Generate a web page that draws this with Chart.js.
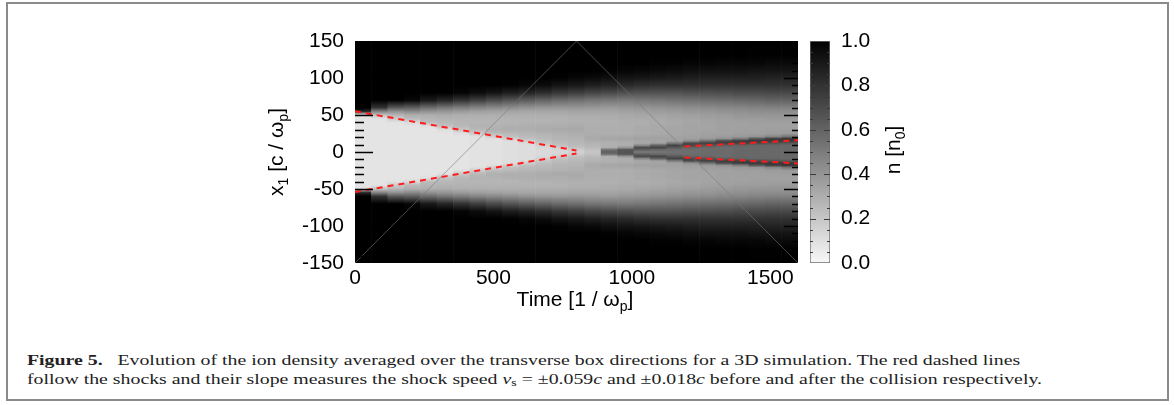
<!DOCTYPE html>
<html>
<head>
<meta charset="utf-8">
<script src="https://cdn.jsdelivr.net/npm/chart.js@4.4.1/dist/chart.umd.min.js"></script>
<style>
html,body{margin:0;padding:0;background:#fff;}
body{width:1174px;height:405px;position:relative;overflow:hidden;}
#frame{position:absolute;left:6px;top:2px;width:1159px;height:395px;border:2px solid #8a8a8a;}
#main{position:absolute;left:0;top:0;}
#cbar{position:absolute;left:800px;top:0;}
.cap{position:absolute;left:27px;font-family:'Liberation Serif','DejaVu Serif',serif;font-size:15.5px;line-height:18px;color:#222;white-space:nowrap;transform-origin:0 0;}
.cap sub{font-size:0.7em;vertical-align:-0.2em;line-height:0;}
</style>
</head>
<body>
<div id="frame"></div>
<canvas id="main" width="1174" height="320"></canvas>
<canvas id="cbar" width="140" height="320"></canvas>
<div class="cap" id="cap1" style="top:351px"><b>Figure 5.</b>&nbsp;&nbsp; Evolution of the ion density averaged over the transverse box directions for a 3D simulation. The red dashed lines</div>
<div class="cap" id="cap2" style="top:370px">follow the shocks and their slope measures the shock speed <i>v</i><sub>s</sub> = ±0.059<i>c</i> and ±0.018<i>c</i> before and after the collision respectively.</div>
<script>
// ---------------- data ----------------
// centres of the time bins (1/ωp)
const timeBins = [29.6, 88.9, 148.1, 207.4, 266.7, 325.9, 385.2, 444.4, 503.7, 563.0, 622.2, 681.5, 740.7, 800.0,
  859.3, 918.5, 977.8, 1037.0, 1096.3, 1155.6, 1214.8, 1274.1, 1333.3, 1392.6, 1451.9, 1511.1, 1570.4];
// distance |x1| from the centre (c/ωp) at which the density profile is sampled
const distanceKnots = [0, 3, 6, 9, 12, 15, 18, 21, 25, 30, 35, 40, 45, 50, 55, 60, 70, 80, 90, 100, 110, 120, 130, 150];
// density n/n0, one profile per time bin, sampled at distanceKnots
const density = [
  [.08,.08,.08,.08,.08,.08,.08,.08,.08,.08,.08,.08,.08,.09,.85,1,1,1,1,1,1,1,1,1],
  [.08,.08,.08,.08,.08,.08,.08,.08,.08,.08,.08,.08,.09,.22,.48,.8,1,1,1,1,1,1,1,1],
  [.08,.08,.08,.08,.08,.08,.08,.08,.08,.08,.08,.09,.18,.27,.42,.65,1,1,1,1,1,1,1,1],
  [.08,.08,.08,.08,.08,.08,.08,.08,.08,.08,.08,.12,.25,.3,.45,.62,.97,1,1,1,1,1,1,1],
  [.08,.08,.08,.08,.08,.08,.08,.08,.08,.08,.1,.24,.27,.3,.42,.57,.9,1,1,1,1,1,1,1],
  [.08,.08,.08,.08,.08,.08,.08,.08,.08,.1,.22,.26,.28,.31,.4,.53,.85,1,1,1,1,1,1,1],
  [.08,.08,.08,.08,.08,.08,.08,.08,.1,.2,.26,.27,.28,.3,.38,.5,.8,.98,1,1,1,1,1,1],
  [.09,.09,.09,.09,.09,.09,.09,.1,.18,.26,.28,.27,.28,.3,.36,.47,.75,.95,1,1,1,1,1,1],
  [.09,.09,.09,.09,.09,.09,.1,.17,.24,.29,.28,.27,.28,.3,.35,.45,.7,.92,1,1,1,1,1,1],
  [.1,.1,.1,.1,.1,.11,.17,.22,.26,.3,.29,.27,.28,.3,.34,.43,.66,.88,.99,1,1,1,1,1],
  [.11,.11,.11,.11,.12,.17,.22,.25,.27,.3,.3,.28,.28,.3,.33,.41,.63,.85,.97,1,1,1,1,1],
  [.12,.12,.13,.16,.2,.23,.25,.26,.28,.31,.3,.28,.28,.3,.33,.4,.6,.82,.95,1,1,1,1,1],
  [.13,.14,.18,.22,.24,.26,.27,.28,.29,.32,.3,.29,.28,.3,.33,.39,.57,.78,.92,.99,1,1,1,1],
  [.15,.18,.22,.25,.26,.27,.28,.29,.3,.32,.31,.29,.29,.31,.34,.4,.55,.75,.9,.97,1,1,1,1],
  [.2,.22,.25,.27,.28,.3,.32,.31,.3,.3,.3,.29,.29,.31,.34,.39,.53,.72,.87,.96,1,1,1,1],
  [.62,.55,.3,.29,.29,.31,.33,.32,.3,.3,.3,.29,.3,.31,.34,.38,.52,.7,.85,.94,.99,1,1,1],
  [.66,.66,.4,.3,.3,.32,.34,.32,.3,.3,.3,.3,.31,.32,.35,.39,.51,.68,.83,.92,.98,1,1,1],
  [.5,.62,.7,.45,.32,.33,.35,.33,.31,.31,.31,.3,.31,.33,.36,.4,.52,.67,.81,.91,.97,1,1,1],
  [.52,.58,.72,.6,.35,.33,.35,.34,.32,.32,.32,.31,.32,.34,.37,.41,.53,.67,.8,.9,.96,.99,1,1],
  [.55,.56,.65,.73,.5,.35,.35,.34,.33,.33,.33,.32,.33,.35,.38,.42,.54,.67,.8,.89,.95,.99,1,1],
  [.56,.56,.6,.72,.7,.42,.36,.35,.34,.34,.34,.33,.34,.36,.39,.43,.55,.68,.8,.88,.94,.98,1,1],
  [.57,.57,.58,.66,.74,.55,.38,.36,.35,.34,.34,.34,.35,.37,.4,.44,.56,.68,.8,.87,.93,.98,1,1],
  [.57,.57,.57,.62,.75,.7,.42,.37,.35,.35,.35,.35,.36,.38,.41,.45,.57,.69,.8,.87,.93,.97,1,1],
  [.58,.58,.58,.6,.74,.76,.5,.38,.36,.35,.35,.35,.37,.39,.42,.46,.58,.7,.8,.87,.93,.97,1,1],
  [.58,.58,.58,.59,.7,.78,.65,.4,.36,.35,.35,.36,.37,.4,.43,.47,.59,.7,.8,.87,.92,.97,.99,1],
  [.58,.58,.58,.59,.66,.78,.74,.45,.37,.36,.35,.36,.38,.4,.43,.48,.6,.71,.8,.86,.92,.96,.99,1],
  [.58,.58,.58,.58,.64,.78,.78,.52,.38,.36,.35,.36,.38,.4,.43,.48,.6,.71,.8,.86,.92,.96,.99,1]
];
// thin grey light-cone lines [t, x1]
const lightCone = [[0, -150], [800, 150], [1600, -150]];
// red dashed shock fits [t, x1]
const shockBeforeUpper = [[0, 55], [800, 2]];
const shockBeforeLower = [[0, -54], [800, -2]];
const shockAfterUpper = [[1190, 7.5], [1600, 15.8]];
const shockAfterLower = [[1190, -7.3], [1600, -15.4]];
// axes
const xRange = [0, 1600], xTicks = [0, 500, 1000, 1500];
const yRange = [-150, 150], yStep = 50, yMinorStep = 10;
const cbRange = [0, 1], cbStep = 0.2, cbMinorStep = 0.05;

// ---------------- helpers ----------------
Chart.defaults.font.family = '"Liberation Sans", Arial, sans-serif';
const FONT = 21;
function grey(v) { const g = Math.round(248 * (1 - Math.max(0, Math.min(1, v)))); return `rgb(${g},${g},${g})`; }
function pts(a) { return a.map(([x, y]) => ({x, y})); }

function drawRich(ctx, parts, x, y, size, rot) {
  ctx.save();
  ctx.translate(x, y); ctx.rotate(rot || 0);
  const mainF = size + 'px "Liberation Sans", Arial, sans-serif';
  const subF = Math.round(size * 0.66) + 'px "Liberation Sans", Arial, sans-serif';
  let w = 0;
  parts.forEach(([t, s]) => { ctx.font = s ? subF : mainF; w += ctx.measureText(t).width; });
  let cx = -w / 2;
  ctx.textBaseline = 'alphabetic'; ctx.textAlign = 'left'; ctx.fillStyle = '#000';
  parts.forEach(([t, s]) => { ctx.font = s ? subF : mainF; ctx.fillText(t, cx, s ? size * 0.22 : 0); cx += ctx.measureText(t).width; });
  ctx.restore();
}

function columnGradient(context) {
  const chart = context.chart;
  const {ctx, chartArea, scales} = chart;
  if (!chartArea || context.type !== 'data') return '#000';
  const prof = density[context.dataIndex];
  const y = scales.y;
  const top = y.getPixelForValue(yRange[1]), bot = y.getPixelForValue(yRange[0]);
  const g = ctx.createLinearGradient(0, top, 0, bot);
  const stops = [];
  distanceKnots.forEach((d, k) => {
    stops.push([d, prof[k]]);
    if (d > 0) stops.push([-d, prof[k]]);
  });
  stops.sort((a, b) => b[0] - a[0]);
  stops.forEach(([x1, v]) => {
    const off = (y.getPixelForValue(x1) - top) / (bot - top);
    g.addColorStop(Math.min(1, Math.max(0, off)), grey(v));
  });
  return g;
}

const mainDecor = {
  id: 'mainDecor',
  afterDatasetsDraw(chart) {
    const {ctx, chartArea: a, scales: {y}} = chart;
    ctx.save();
    ctx.strokeStyle = '#000'; ctx.lineWidth = 1.3;
    for (let v = yRange[0] + yMinorStep; v < yRange[1]; v += yMinorStep) {
      const p = Math.round(y.getPixelForValue(v)) + 0.5;
      const major = v % yStep === 0;
      ctx.beginPath();
      ctx.moveTo(a.left, p); ctx.lineTo(a.left + (major ? 18 : 9), p);
      ctx.moveTo(a.right, p); ctx.lineTo(a.right - (major ? 14 : 6), p);
      ctx.stroke();
    }
    ctx.restore();
  },
  afterDraw(chart) {
    const ctx = chart.ctx;
    drawRich(ctx, [['x', 0], ['1', 1], [' [c / \u03C9', 0], ['p', 1], [']', 0]], 283, 152, FONT, -Math.PI / 2);
    drawRich(ctx, [['Time [1 / \u03C9', 0], ['p', 1], [']', 0]], 575, 306, FONT, 0);
  }
};

new Chart(document.getElementById('main'), {
  type: 'bar',
  data: {
    datasets: [
      {type: 'bar', data: timeBins.map(t => ({x: t, y: [yRange[0], yRange[1]]})), backgroundColor: columnGradient,
        borderWidth: 0, barPercentage: 1, categoryPercentage: 1, grouped: false, order: 3},
      {type: 'line', data: pts(lightCone), borderColor: 'rgba(120,120,120,0.85)', borderWidth: 0.7, pointRadius: 0, order: 2},
      {type: 'line', data: pts(shockBeforeUpper), borderColor: '#ff1c1c', borderWidth: 2, borderDash: [6, 5], pointRadius: 0, order: 1},
      {type: 'line', data: pts(shockBeforeLower), borderColor: '#ff1c1c', borderWidth: 2, borderDash: [6, 5], pointRadius: 0, order: 1},
      {type: 'line', data: pts(shockAfterUpper), borderColor: '#ff1c1c', borderWidth: 2, borderDash: [6, 5], pointRadius: 0, order: 1},
      {type: 'line', data: pts(shockAfterLower), borderColor: '#ff1c1c', borderWidth: 2, borderDash: [6, 5], pointRadius: 0, order: 1}
    ]
  },
  options: {
    responsive: false, animation: false,
    layout: {padding: {left: 253, top: 41, right: 376, bottom: 7}},
    plugins: {legend: {display: false}, tooltip: {enabled: false}},
    scales: {
      x: {type: 'linear', min: xRange[0], max: xRange[1], offset: false,
        grid: {display: false, drawTicks: false}, border: {display: false},
        afterBuildTicks: s => { s.ticks = xTicks.map(v => ({value: v})); },
        ticks: {padding: 3, maxRotation: 0, autoSkip: false,
          font: {size: FONT}, color: '#000', callback: v => String(v)},
        afterFit: s => { s.height = 50; }},
      y: {type: 'linear', min: yRange[0], max: yRange[1],
        grid: {display: false, drawTicks: false}, border: {display: false},
        ticks: {stepSize: yStep, padding: 11, font: {size: FONT}, color: '#000', callback: v => String(v)},
        afterFit: s => { s.width = 102; }}
    }
  },
  plugins: [mainDecor]
});

// ---------------- colour bar ----------------
function cbGradient(context) {
  const {ctx, chartArea, scales} = context.chart;
  if (!chartArea) return '#888';
  const y = scales.y;
  const top = y.getPixelForValue(cbRange[1]), bot = y.getPixelForValue(cbRange[0]);
  const g = ctx.createLinearGradient(0, bot, 0, top);
  g.addColorStop(0, grey(cbRange[0]));
  g.addColorStop(1, grey(cbRange[1]));
  return g;
}
const cbDecor = {
  id: 'cbDecor',
  afterDatasetsDraw(chart) {
    const {ctx, chartArea: a, scales: {y}} = chart;
    ctx.save();
    ctx.strokeStyle = '#3a3a3a'; ctx.lineWidth = 1;
    const n = Math.round((cbRange[1] - cbRange[0]) / cbMinorStep);
    for (let i = 1; i < n; i++) {
      const v = cbRange[0] + i * cbMinorStep;
      const p = Math.round(y.getPixelForValue(v)) + 0.5;
      const major = i % Math.round(cbStep / cbMinorStep) === 0;
      const len = major ? 6 : 3;
      ctx.beginPath();
      ctx.moveTo(a.left, p); ctx.lineTo(a.left + len, p);
      ctx.moveTo(a.right, p); ctx.lineTo(a.right - len, p);
      ctx.stroke();
    }
    ctx.restore();
  },
  afterDraw(chart) {
    drawRich(chart.ctx, [['n [n', 0], ['0', 1], [']', 0]], 100, 150, FONT, -Math.PI / 2);
  }
};
new Chart(document.getElementById('cbar'), {
  type: 'bar',
  data: {labels: ['n'], datasets: [{data: [[cbRange[0], cbRange[1]]], backgroundColor: cbGradient,
    borderColor: '#6e6e6e', borderWidth: 1, borderSkipped: false, barPercentage: 1, categoryPercentage: 1}]},
  options: {
    responsive: false, animation: false,
    layout: {padding: {left: 10, top: 41, right: 50, bottom: 57}},
    plugins: {legend: {display: false}, tooltip: {enabled: false}},
    scales: {
      x: {display: false},
      y: {position: 'right', min: cbRange[0], max: cbRange[1],
        grid: {display: false, drawTicks: false}, border: {display: false},
        ticks: {stepSize: cbStep, padding: 11, font: {size: FONT}, color: '#000', callback: v => Number(v).toFixed(1)},
        afterFit: s => { s.width = 60; }}
    }
  },
  plugins: [cbDecor]
});

// ---------------- caption fit (same horizontal scale for both lines) ----------------
function fitCaption() {
  const c1 = document.getElementById('cap1'), c2 = document.getElementById('cap2');
  c1.style.transform = 'none'; c2.style.transform = 'none';
  const k = 1015 / c2.getBoundingClientRect().width;
  c1.style.transform = `scaleX(${k})`;
  c2.style.transform = `scaleX(${k})`;
}
fitCaption();
if (document.fonts && document.fonts.ready) document.fonts.ready.then(fitCaption);
</script>
</body>
</html>
